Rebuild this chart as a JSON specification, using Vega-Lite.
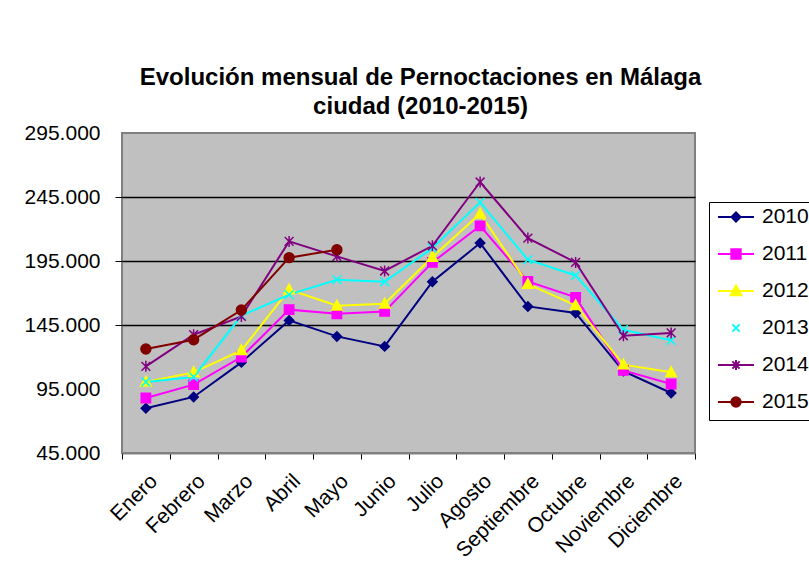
{
  "$schema": "https://vega.github.io/schema/vega-lite/v6.json",
  "width": 573,
  "height": 320,
  "autosize": {"type": "none"},
  "padding": {"left": 122, "top": 133, "right": 114, "bottom": 121},
  "background": "white",
  "title": {
    "text": ["Evolución mensual de Pernoctaciones en Málaga", "ciudad (2010-2015)"],
    "font": "Liberation Sans",
    "fontSize": 24,
    "fontWeight": "bold",
    "color": "black",
    "anchor": "middle",
    "frame": "group",
    "dx": 12,
    "lineHeight": 29,
    "offset": 3
  },
  "data": {
    "values": [
      {"mes": "Enero", "year": "2010", "valor": 79900},
      {"mes": "Febrero", "year": "2010", "valor": 88800},
      {"mes": "Marzo", "year": "2010", "valor": 115800},
      {"mes": "Abril", "year": "2010", "valor": 148600},
      {"mes": "Mayo", "year": "2010", "valor": 136100},
      {"mes": "Junio", "year": "2010", "valor": 128300},
      {"mes": "Julio", "year": "2010", "valor": 178800},
      {"mes": "Agosto", "year": "2010", "valor": 209000},
      {"mes": "Septiembre", "year": "2010", "valor": 159500},
      {"mes": "Octubre", "year": "2010", "valor": 154400},
      {"mes": "Noviembre", "year": "2010", "valor": 109000},
      {"mes": "Diciembre", "year": "2010", "valor": 91900},
      {"mes": "Enero", "year": "2011", "valor": 88000},
      {"mes": "Febrero", "year": "2011", "valor": 98400},
      {"mes": "Marzo", "year": "2011", "valor": 120000},
      {"mes": "Abril", "year": "2011", "valor": 157000},
      {"mes": "Mayo", "year": "2011", "valor": 153800},
      {"mes": "Junio", "year": "2011", "valor": 155600},
      {"mes": "Julio", "year": "2011", "valor": 193900},
      {"mes": "Agosto", "year": "2011", "valor": 222500},
      {"mes": "Septiembre", "year": "2011", "valor": 179000},
      {"mes": "Octubre", "year": "2011", "valor": 166600},
      {"mes": "Noviembre", "year": "2011", "valor": 109500},
      {"mes": "Diciembre", "year": "2011", "valor": 98900},
      {"mes": "Enero", "year": "2012", "valor": 100500},
      {"mes": "Febrero", "year": "2012", "valor": 108000},
      {"mes": "Marzo", "year": "2012", "valor": 125200},
      {"mes": "Abril", "year": "2012", "valor": 172600},
      {"mes": "Mayo", "year": "2012", "valor": 160000},
      {"mes": "Junio", "year": "2012", "valor": 161600},
      {"mes": "Julio", "year": "2012", "valor": 198100},
      {"mes": "Agosto", "year": "2012", "valor": 231900},
      {"mes": "Septiembre", "year": "2012", "valor": 177000},
      {"mes": "Octubre", "year": "2012", "valor": 160300},
      {"mes": "Noviembre", "year": "2012", "valor": 114000},
      {"mes": "Diciembre", "year": "2012", "valor": 108000},
      {"mes": "Enero", "year": "2013", "valor": 100500},
      {"mes": "Febrero", "year": "2013", "valor": 104400},
      {"mes": "Marzo", "year": "2013", "valor": 152300},
      {"mes": "Abril", "year": "2013", "valor": 168700},
      {"mes": "Mayo", "year": "2013", "valor": 180400},
      {"mes": "Junio", "year": "2013", "valor": 178800},
      {"mes": "Julio", "year": "2013", "valor": 205100},
      {"mes": "Agosto", "year": "2013", "valor": 240800},
      {"mes": "Septiembre", "year": "2013", "valor": 196000},
      {"mes": "Octubre", "year": "2013", "valor": 183700},
      {"mes": "Noviembre", "year": "2013", "valor": 141300},
      {"mes": "Diciembre", "year": "2013", "valor": 133000},
      {"mes": "Enero", "year": "2014", "valor": 112700},
      {"mes": "Febrero", "year": "2014", "valor": 137400},
      {"mes": "Marzo", "year": "2014", "valor": 151700},
      {"mes": "Abril", "year": "2014", "valor": 210300},
      {"mes": "Mayo", "year": "2014", "valor": 198600},
      {"mes": "Junio", "year": "2014", "valor": 187200},
      {"mes": "Julio", "year": "2014", "valor": 206900},
      {"mes": "Agosto", "year": "2014", "valor": 256700},
      {"mes": "Septiembre", "year": "2014", "valor": 212900},
      {"mes": "Octubre", "year": "2014", "valor": 193900},
      {"mes": "Noviembre", "year": "2014", "valor": 136600},
      {"mes": "Diciembre", "year": "2014", "valor": 138800},
      {"mes": "Enero", "year": "2015", "valor": 126300},
      {"mes": "Febrero", "year": "2015", "valor": 133500},
      {"mes": "Marzo", "year": "2015", "valor": 156700},
      {"mes": "Abril", "year": "2015", "valor": 197600},
      {"mes": "Mayo", "year": "2015", "valor": 203800}
    ]
  },
  "encoding": {
    "x": {
      "field": "mes",
      "type": "nominal",
      "bandPosition": 0.5,
      "sort": ["Enero", "Febrero", "Marzo", "Abril", "Mayo", "Junio", "Julio", "Agosto", "Septiembre", "Octubre", "Noviembre", "Diciembre"],
      "scale": {"type": "band", "paddingInner": 0, "paddingOuter": 0},
      "axis": {
        "title": null,
        "tickBand": "extent",
        "labelAngle": -45,
        "labelAlign": "right",
        "labelBaseline": "top",
        "labelFont": "Liberation Sans",
        "labelFontSize": 21,
        "labelColor": "black",
        "labelPadding": 11,
        "tickSize": 6,
        "tickColor": "black",
        "domainColor": "#808080",
        "domainWidth": 2,
        "grid": false
      }
    },
    "y": {
      "field": "valor",
      "type": "quantitative",
      "scale": {"domain": [45000, 295000], "nice": false, "zero": false},
      "axis": {
        "title": null,
        "values": [45000, 95000, 145000, 195000, 245000, 295000],
        "labelExpr": "replace(format(datum.value, ','), ',', '.')",
        "labelFont": "Liberation Sans",
        "labelFontSize": 21,
        "labelColor": "black",
        "labelPadding": 15,
        "tickSize": 7,
        "tickColor": "black",
        "tickOpacity": {"condition": {"test": "datum.value == 45000 || datum.value == 95000 || datum.value == 295000", "value": 0}, "value": 1},
        "grid": true,
        "gridColor": "black",
        "gridWidth": 1.5,
        "gridOpacity": {"condition": {"test": "datum.value == 45000 || datum.value == 95000 || datum.value == 295000", "value": 0}, "value": 1},
        "domain": false
      }
    }
  },
  "layer": [
    {
      "mark": {"type": "line", "strokeWidth": 2},
      "encoding": {
        "color": {
          "field": "year",
          "type": "nominal",
          "scale": {"domain": ["2010", "2011", "2012", "2013", "2014", "2015"], "range": ["#000080", "#FF00FF", "#FFFF00", "#00FFFF", "#800080", "#800000"]},
          "legend": {
            "orient": "none",
            "legendX": 587,
            "legendY": 69,
            "title": null,
            "strokeColor": "black",
            "fillColor": "white",
            "padding": 8,
            "labelFont": "Liberation Sans",
            "labelFontSize": 21,
            "labelColor": "black",
            "labelOffset": 7,
            "symbolSize": 1296,
            "clipHeight": 14,
            "rowPadding": 16,
            "symbolStrokeWidth": 2,
            "encode": {
              "symbols": {
                "update": {
                  "shape": {"signal": "datum.value == '2010' ? 'M-1,0L1,0M0,-0.25L0.25,0L0,0.25L-0.25,0Z' : datum.value == '2011' ? 'M-1,0L1,0M-0.26,-0.26L0.26,-0.26L0.26,0.26L-0.26,0.26Z' : datum.value == '2012' ? 'M-1,0L1,0M0,-0.3L0.3,0.24L-0.3,0.24Z' : datum.value == '2013' ? 'M-0.2,-0.2L0.2,0.2M-0.2,0.2L0.2,-0.2' : datum.value == '2014' ? 'M-1,0L1,0M-0.2,-0.2L0.2,0.2M-0.2,0.2L0.2,-0.2M0,-0.28L0,0.28' : 'M-1,0L1,0M-0.26,0A0.26,0.26,0,1,1,0.26,0A0.26,0.26,0,1,1,-0.26,0Z'"},
                  "fill": {"signal": "scale('color', datum.value)"},
                  "size": {"value": 1296},
                  "strokeWidth": {"value": 2},
                  "opacity": {"value": 1},
                  "fillOpacity": {"value": 1},
                  "strokeOpacity": {"value": 1}
                }
              }
            }
          }
        }
      }
    },
    {
      "transform": [{"filter": "datum.year == '2010'"}],
      "mark": {"type": "point", "shape": "M0,-0.85L0.85,0L0,0.85L-0.85,0Z", "filled": true, "size": 121, "strokeWidth": 1.5, "opacity": 1, "fill": "#000080", "stroke": "#000080"}
    },
    {
      "transform": [{"filter": "datum.year == '2011'"}],
      "mark": {"type": "point", "shape": "M-0.85,-0.85L0.85,-0.85L0.85,0.85L-0.85,0.85Z", "filled": true, "size": 121, "strokeWidth": 1.5, "opacity": 1, "fill": "#FF00FF", "stroke": "#FF00FF"}
    },
    {
      "transform": [{"filter": "datum.year == '2012'"}],
      "mark": {"type": "point", "shape": "M0,-1L0.95,0.75L-0.95,0.75Z", "filled": true, "size": 121, "strokeWidth": 1.5, "opacity": 1, "fill": "#FFFF00", "stroke": "#FFFF00"}
    },
    {
      "transform": [{"filter": "datum.year == '2013'"}],
      "mark": {"type": "point", "shape": "M-0.8,-0.8L0.8,0.8M-0.8,0.8L0.8,-0.8", "filled": false, "size": 121, "strokeWidth": 1.5, "opacity": 1, "stroke": "#00FFFF"}
    },
    {
      "transform": [{"filter": "datum.year == '2014'"}],
      "mark": {"type": "point", "shape": "M-0.8,-0.8L0.8,0.8M-0.8,0.8L0.8,-0.8M0,-1L0,1", "filled": false, "size": 121, "strokeWidth": 1.5, "opacity": 1, "stroke": "#800080"}
    },
    {
      "transform": [{"filter": "datum.year == '2015'"}],
      "mark": {"type": "point", "shape": "M-0.9,0A0.9,0.9,0,1,1,0.9,0A0.9,0.9,0,1,1,-0.9,0Z", "filled": true, "size": 121, "strokeWidth": 1.5, "opacity": 1, "fill": "#800000", "stroke": "#800000"}
    }
  ],
  "config": {
    "view": {"fill": "#C0C0C0", "stroke": "#808080", "strokeWidth": 2},
    "font": "Liberation Sans"
  }
}
